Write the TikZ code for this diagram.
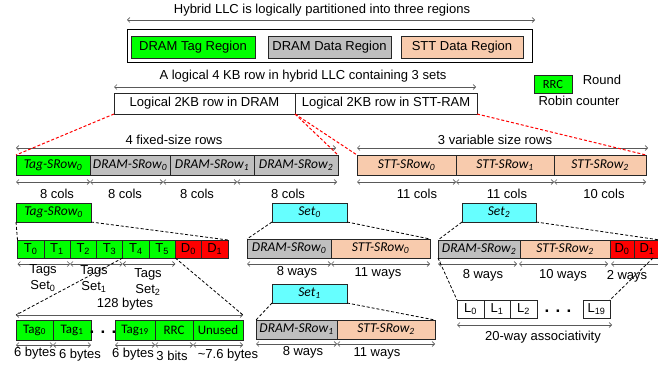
\documentclass[tikz,border=0pt]{standalone}
\usepackage{fontspec}
\setmainfont{Liberation Sans}
\newfontfamily\cfont{Carlito}
\usetikzlibrary{arrows.meta}
\definecolor{cgreen}{RGB}{0,255,0}
\definecolor{cgray}{RGB}{191,191,191}
\definecolor{cpeach}{RGB}{248,203,173}
\definecolor{ccyan}{RGB}{102,255,255}
\definecolor{cred}{RGB}{255,0,0}
\newcommand\sz{\fontsize{13}{15}\selectfont}
\newcommand\sub[1]{\textsubscript{#1}}
\begin{document}
\begin{tikzpicture}[x=1pt,y=-1pt,
  txt/.style={font=\sz, inner sep=0pt},
  twol/.style={font=\fontsize{13}{16}\selectfont, inner sep=0pt, align=center},
  dots/.style={font=\fontsize{17}{17}\selectfont\bfseries, inner sep=0pt},
  cell/.style={draw=black!85, line width=0.6pt, inner sep=0pt, outer sep=0pt, anchor=north west, font=\sz},
  lab/.style={cell, font=\cfont\itshape\fontsize{13.5}{15}\selectfont},
  cal/.style={cell, font=\cfont\fontsize{13}{15}\selectfont},
  dim/.style={{Straight Barb[length=2.5pt,width=5pt]}-{Straight Barb[length=2.5pt,width=5pt]}, draw=black!65, line width=0.6pt},
  reddash/.style={draw=cred, line width=1pt, dash pattern=on 3pt off 2pt},
  blkdash/.style={draw=black, line width=0.8pt, dash pattern=on 3pt off 2pt}
]
\useasboundingbox[fill=white] (0,0) rectangle (658,366);

% ---------- top: three regions ----------
\node[txt] (title) at (322,10) {Hybrid LLC is logically partitioned into three regions};
\coordinate (ta1) at (127,20); \coordinate (ta2) at (535,20);
\draw[dim] (ta1) -- (ta2);
\node[cell, draw=black, line width=0.9pt, minimum width=405pt, minimum height=33pt] (region) at (127,29) {};
\node[cell, fill=cgreen, minimum width=124pt, minimum height=22pt] (tagreg) at (131,36) {DRAM Tag Region};
\node[cell, fill=cgray, minimum width=123pt, minimum height=22pt] (datareg) at (268,36) {DRAM Data Region};
\node[cell, fill=cpeach, minimum width=122pt, minimum height=22pt] (sttreg) at (401,36) {STT Data Region};

% ---------- logical 4KB row ----------
\node[txt] (t4kb) at (303,76) {A logical 4 KB row in hybrid LLC containing 3 sets};
\coordinate (la1) at (114,87); \coordinate (la2) at (476,87);
\draw[dim] (la1) -- (la2);
\node[cell, minimum width=181pt, minimum height=21pt] (dl) at (114,93) {Logical 2KB row in DRAM};
\node[cell, minimum width=182pt, minimum height=21pt] (sl) at (295,93) {Logical 2KB row in STT-RAM};

% legend
\node[cal, fill=cgreen, minimum width=38pt, minimum height=18pt, font=\cfont\fontsize{12.5}{14}\selectfont] (rrcleg) at (534,75) {RRC};
\node[txt] (round) at (602,80) {Round};
\node[txt] (robin) at (579,101) {Robin counter};

% ---------- fixed-size rows ----------
\node[txt] (t4f) at (174,140) {4 fixed-size rows};
\node[lab, fill=cgreen, minimum width=74pt, minimum height=20pt] (tagrow) at (16,155) {Tag-SRow\sub{0}};
\node[lab, fill=cgray, minimum width=80pt, minimum height=20pt] (dr0) at (90,155) {DRAM-SRow\sub{0}};
\node[lab, fill=cgray, minimum width=84pt, minimum height=20pt] (dr1) at (170,155) {DRAM-SRow\sub{1}};
\node[lab, fill=cgray, minimum width=84pt, minimum height=20pt] (dr2) at (254,155) {DRAM-SRow\sub{2}};
\draw[dim] ([yshift=7pt]tagrow.north west) -- ([yshift=7pt,xshift=-2pt]dr2.north east);
\coordinate (fc0) at (16,182); \coordinate (fc1) at (90,182); \coordinate (fc2) at (163,182);
\coordinate (fc3) at (237,182); \coordinate (fc4) at (337,182);
\draw[dim] (fc0) -- (fc1); \draw[dim] (fc1) -- (fc2); \draw[dim] (fc2) -- (fc3); \draw[dim] (fc3) -- (fc4);
\node[txt] (c1) at (57,194) {8 cols};
\node[txt] (c2) at (125,194) {8 cols};
\node[txt] (c3) at (197,194) {8 cols};
\node[txt] (c4) at (288,194) {8 cols};

% ---------- variable-size rows ----------
\node[txt] (t3v) at (495,140) {3 variable size rows};
\node[lab, fill=cpeach, minimum width=99pt, minimum height=20pt] (s0) at (357,155) {STT-SRow\sub{0}};
\node[lab, fill=cpeach, minimum width=98pt, minimum height=20pt] (s1) at (456,155) {STT-SRow\sub{1}};
\node[lab, fill=cpeach, minimum width=92pt, minimum height=20pt] (s2) at (554,155) {STT-SRow\sub{2}};
\draw[dim] ([yshift=7pt]s0.north west) -- ([yshift=7pt,xshift=2pt]s2.north east);
\draw[dim] ([yshift=-7pt]s0.south west) -- ([yshift=-7pt]s0.south east);
\draw[dim] ([yshift=-7pt]s1.south west) -- ([yshift=-7pt]s1.south east);
\draw[dim] ([yshift=-7pt]s2.south west) -- ([yshift=-7pt]s2.south east);
\node[txt] (c5) at (417,194) {11 cols};
\node[txt] (c6) at (507,194) {11 cols};
\node[txt] (c7) at (604,194) {10 cols};

% red dashed expansions
\draw[reddash] (dl.south west) -- (tagrow.north west);
\draw[reddash] (dl.south east) -- (dr2.north east);
\draw[reddash] (sl.south west) -- (s0.north west);
\draw[reddash] (sl.south east) -- (s2.north east);

% ---------- tag row expansion ----------
\node[lab, fill=cgreen, minimum width=75pt, minimum height=19pt] (tagx) at (16,203) {Tag-SRow\sub{0}};
\node[cell, fill=cgreen, minimum width=26.3pt, minimum height=18pt] (t0) at (17.5,240) {T\sub{0}};
\node[cell, fill=cgreen, minimum width=26.3pt, minimum height=18pt] (t1) at (43.8,240) {T\sub{1}};
\node[cell, fill=cgreen, minimum width=26.3pt, minimum height=18pt] (t2) at (70.1,240) {T\sub{2}};
\node[cell, fill=cgreen, minimum width=26.3pt, minimum height=18pt] (t3) at (96.4,240) {T\sub{3}};
\node[cell, fill=cgreen, minimum width=26.3pt, minimum height=18pt] (t4) at (122.7,240) {T\sub{4}};
\node[cell, fill=cgreen, minimum width=26.3pt, minimum height=18pt] (t5) at (149.0,240) {T\sub{5}};
\node[cell, fill=cred, minimum width=26.3pt, minimum height=18pt] (d0) at (175.3,240) {D\sub{0}};
\node[cell, fill=cred, minimum width=26.3pt, minimum height=18pt] (d1) at (201.6,240) {D\sub{1}};
\draw[blkdash] (tagx.south west) -- (t0.north west);
\draw[blkdash] (tagx.south east) -- (d1.north east);
\draw[dim] ([yshift=-6pt]t0.south west) -- ([yshift=-6pt]t1.south east);
\draw[dim] ([yshift=-6pt]t2.south west) -- ([yshift=-6pt]t3.south east);
\draw[dim] ([yshift=-6pt]t4.south west) -- ([yshift=-6pt]t5.south east);
\node[twol] (ts0) at (43,278) {Tags\\Set\sub{0}};
\node[twol] (ts1) at (94,279) {Tags\\Set\sub{1}};
\node[twol] (ts2) at (148,282) {Tags\\Set\sub{2}};

% ---------- 128 bytes row ----------
\node[txt] (b128) at (125,304) {128 bytes};
\node[cal, fill=cgreen, minimum width=37pt, minimum height=20pt] (tag0) at (16,320) {Tag\sub{0}};
\node[cal, fill=cgreen, minimum width=38pt, minimum height=20pt] (tag1) at (53,320) {Tag\sub{1}};
\node[dots] (bdots) at (103,332) {. . .};
\node[cal, fill=cgreen, minimum width=40pt, minimum height=20pt] (tag19) at (115,320) {Tag\sub{19}};
\node[cal, fill=cgreen, minimum width=38pt, minimum height=20pt] (rrc) at (155,320) {RRC};
\node[cal, fill=cgreen, minimum width=50pt, minimum height=20pt] (unused) at (193,320) {Unused};
\draw[dim] ([yshift=5pt]tag0.north west) -- ([yshift=5pt]unused.north east);
\draw[blkdash] (t3.south east) -- ([yshift=5pt]tag0.north west);
\draw[blkdash] (t5.south east) -- ([yshift=5pt]unused.north east);
\draw[dim] ([yshift=-5pt]tag0.south west) -- ([yshift=-5pt]tag0.south east);
\draw[dim] ([yshift=-5pt]tag1.south west) -- ([yshift=-5pt]tag1.south east);
\draw[dim] ([yshift=-5pt]tag19.south west) -- ([yshift=-5pt]tag19.south east);
\draw[dim] ([yshift=-5pt]rrc.south west) -- ([yshift=-5pt]rrc.south east);
\draw[dim] ([yshift=-5pt]unused.south west) -- ([yshift=-5pt]unused.south east);
\node[txt] (by1) at (35,353) {6 bytes};
\node[txt] (by2) at (80,355) {6 bytes};
\node[txt] (by3) at (133,354) {6 bytes};
\node[txt] (bits) at (172,356) {3 bits};
\node[txt] (by4) at (228,355) {\textasciitilde7.6 bytes};

% ---------- Set0 ----------
\node[lab, fill=ccyan, minimum width=75pt, minimum height=19pt] (set0) at (272,203) {Set\sub{0}};
\node[lab, fill=cgray, minimum width=84pt, minimum height=19pt] (ds0) at (247,239) {DRAM-SRow\sub{0}};
\node[lab, fill=cpeach, minimum width=99pt, minimum height=19pt] (ss0) at (331,239) {STT-SRow\sub{0}};
\draw[blkdash] (set0.south west) -- (ds0.north west);
\draw[blkdash] (set0.south east) -- (ss0.north east);
\draw[dim] ([yshift=-6pt]ds0.south west) -- ([yshift=-6pt]ds0.south east);
\draw[dim] ([yshift=-6pt]ss0.south west) -- ([yshift=-6pt]ss0.south east);
\node[txt] (w1) at (297,272) {8 ways};
\node[txt] (w2) at (378,273) {11 ways};

% ---------- Set1 ----------
\node[lab, fill=ccyan, minimum width=75pt, minimum height=19pt] (set1) at (272,284) {Set\sub{1}};
\node[lab, fill=cgray, minimum width=81pt, minimum height=19pt] (ds1) at (256,320) {DRAM-SRow\sub{1}};
\node[lab, fill=cpeach, minimum width=98pt, minimum height=19pt] (ss1) at (337,320) {STT-SRow\sub{2}};
\draw[blkdash] (set1.south west) -- (ds1.north west);
\draw[blkdash] (set1.south east) -- (ss1.north east);
\draw[dim] ([yshift=-5pt]ds1.south west) -- ([yshift=-5pt]ds1.south east);
\draw[dim] ([yshift=-5pt]ss1.south west) -- ([yshift=-5pt]ss1.south east);
\node[txt] (w3) at (303,352) {8 ways};
\node[txt] (w4) at (377,353) {11 ways};

% ---------- Set2 ----------
\node[lab, fill=ccyan, minimum width=74pt, minimum height=19pt] (set2) at (462,203) {Set\sub{2}};
\node[lab, fill=cgray, minimum width=82pt, minimum height=18pt] (ds2) at (438,240) {DRAM-SRow\sub{2}};
\node[lab, fill=cpeach, minimum width=90pt, minimum height=18pt] (ss2) at (520,240) {STT-SRow\sub{2}};
\node[cell, fill=cred, minimum width=24pt, minimum height=18pt] (d0b) at (610,240) {D\sub{0}};
\node[cell, fill=cred, minimum width=26pt, minimum height=18pt] (d1b) at (634,240) {D\sub{1}};
\draw[blkdash] (set2.south west) -- (ds2.north west);
\draw[blkdash] (set2.south east) -- (d1b.north east);
\draw[dim] ([yshift=-6pt]ds2.south west) -- ([yshift=-6pt,xshift=-3pt]ds2.south east);
\draw[dim] ([yshift=-6pt,xshift=-1pt]ss2.south west) -- ([yshift=-6pt,xshift=-2pt]ss2.south east);
\draw[dim] ([yshift=-6pt,xshift=1pt]d0b.south west) -- ([yshift=-6pt,xshift=2pt]d1b.south east);
\node[txt] (w5) at (483,275) {8 ways};
\node[txt] (w6) at (563,275) {10 ways};
\node[txt] (w7) at (627,276) {2 ways};

% L row
\node[cell, minimum width=27pt, minimum height=18pt] (l0) at (457,300) {L\sub{0}};
\node[cell, minimum width=26pt, minimum height=18pt] (l1) at (484,300) {L\sub{1}};
\node[cell, minimum width=27pt, minimum height=18pt] (l2) at (510,300) {L\sub{2}};
\node[dots] (ldots) at (558,311) {. . .};
\node[cell, minimum width=27pt, minimum height=18pt] (l19) at (583,300) {L\sub{19}};
\draw[blkdash] (ds2.south west) -- (l0.north west);
\draw[blkdash] ([xshift=-7pt]d1b.south east) -- (l19.north east);
\draw[dim] ([yshift=-7pt]l0.south west) -- ([yshift=-7pt,xshift=2pt]l19.south east);
\node[txt] (assoc) at (543,337) {20-way associativity};
\end{tikzpicture}
\end{document}
